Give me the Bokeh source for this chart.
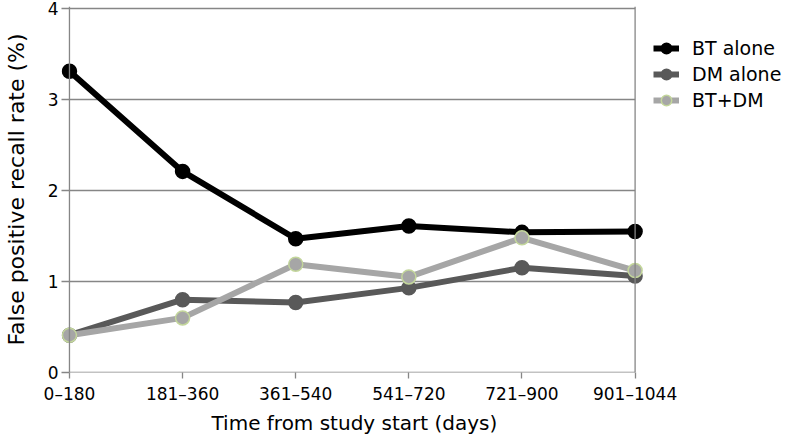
from bokeh.plotting import figure
from bokeh.models import FixedTicker, Legend, LegendItem, Range1d, Span, Title
from bokeh.embed import file_html
from bokeh.resources import INLINE

categories = ["0–180", "181–360", "361–540", "541–720", "721–900", "901–1044"]
bt_alone = [3.31, 2.21, 1.47, 1.61, 1.54, 1.55]
dm_alone = [0.41, 0.80, 0.77, 0.93, 1.15, 1.06]
bt_dm = [0.41, 0.60, 1.19, 1.05, 1.48, 1.12]
y_ticks = [0, 1, 2, 3, 4]

FONT = "DejaVu Sans"
x = list(range(len(categories)))
last = len(categories) - 1

p = figure(width=788, height=436, output_backend="svg", toolbar_location=None,
           x_range=Range1d(-0.0704, 6.356), y_range=Range1d(0, 4.022),
           min_border_left=58, min_border_top=6, min_border_bottom=10,
           min_border_right=0)
p.outline_line_color = None
p.background_fill_color = "white"
p.border_fill_color = "white"

grey = "#868686"
p.xgrid.grid_line_color = None
p.ygrid.grid_line_color = None

# horizontal gridlines spanning the category extent
p.segment(x0=[0] * len(y_ticks), x1=[last] * len(y_ticks), y0=y_ticks, y1=y_ticks,
          line_color=grey, line_width=1.3)
# left axis line and right border line
p.add_layout(Span(location=0, dimension="height", line_color=grey, line_width=1.3))
p.add_layout(Span(location=last, dimension="height", line_color=grey, line_width=1.3))

p.xaxis.ticker = FixedTicker(ticks=x)
p.xaxis.major_label_overrides = {i: c for i, c in enumerate(categories)}
p.yaxis.ticker = FixedTicker(ticks=y_ticks)
for ax in (p.xaxis[0], p.yaxis[0]):
    ax.axis_line_color = None
    ax.major_tick_line_color = grey
    ax.major_tick_line_width = 1.3
    ax.minor_tick_line_color = None
    ax.major_label_text_font = FONT
    ax.major_label_text_font_size = "17px"
    ax.major_label_text_color = "#000000"
    ax.axis_label_text_font = FONT
    ax.axis_label_text_font_style = "normal"
    ax.axis_label_text_color = "#000000"
p.xaxis.major_tick_out = 6
p.xaxis.major_tick_in = 0
p.yaxis.major_tick_out = 0
p.yaxis.major_tick_in = 8
p.xaxis.major_label_standoff = 5
p.yaxis.major_label_standoff = 3
p.yaxis.axis_label = "False positive recall rate (%)"
p.yaxis.axis_label_text_font_size = "22px"
p.yaxis.axis_label_standoff = 16

xtitle = Title(text="Time from study start (days)", align="left", offset=150,
               text_font=FONT, text_font_size="20px", text_font_style="normal",
               text_color="#000000", standoff=4)
p.add_layout(xtitle, "below")

series = [
    ("BT alone", bt_alone, "#000000", "#000000"),
    ("DM alone", dm_alone, "#595959", "#595959"),
    ("BT+DM", bt_dm, "#a6a6a6", "#c3d69b"),
]
items = []
for name, vals, col, edge in series:
    r1 = p.line(x, vals, line_color=col, line_width=6)
    r2 = p.scatter(x, vals, size=14, fill_color=col, line_color=edge, line_width=1.5)
    items.append(LegendItem(label=name, renderers=[r1, r2]))

legend = Legend(items=items, location=(592, 259))
legend.label_text_font = FONT
legend.label_text_font_size = "19px"
legend.label_text_color = "#000000"
legend.border_line_color = None
legend.background_fill_alpha = 0
legend.glyph_width = 26
legend.glyph_height = 26
legend.spacing = 0
legend.padding = 0
legend.margin = 0
legend.label_standoff = 13
p.add_layout(legend, "center")

open("out.html", "w").write(file_html(p, INLINE))
